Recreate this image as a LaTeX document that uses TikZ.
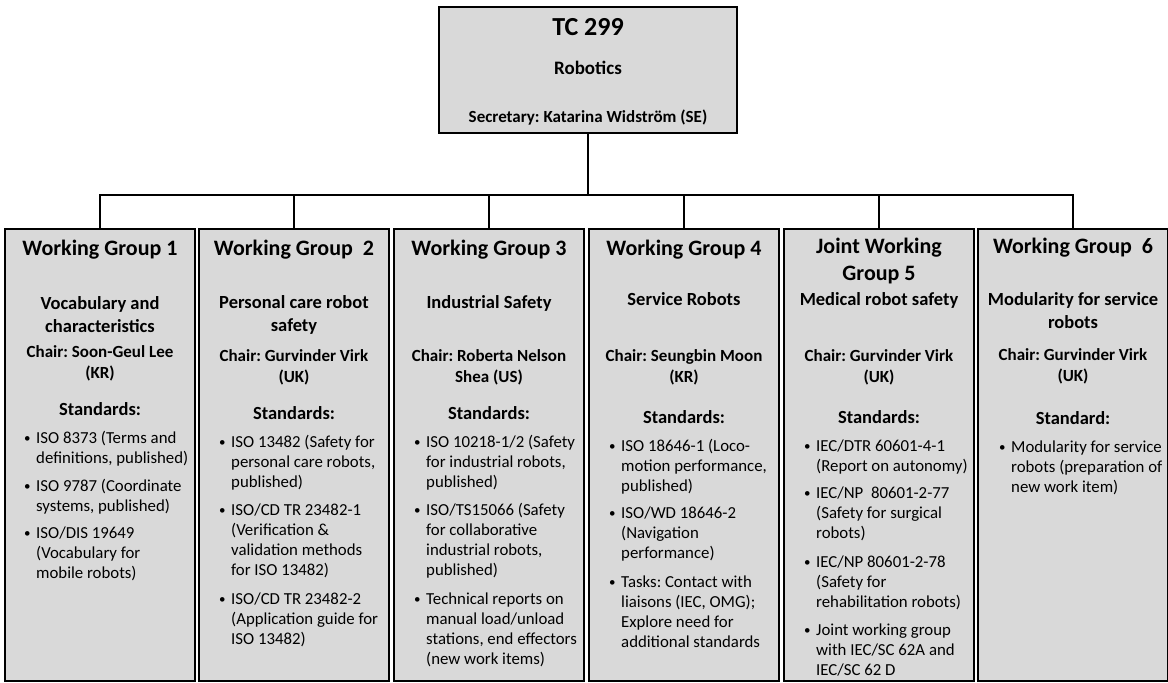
\documentclass[tikz,border=0pt]{standalone}
\usepackage{fontspec}
\setmainfont{Carlito}
\frenchspacing

\definecolor{boxgray}{RGB}{217,217,217}

\tikzset{
  tcbox/.style={draw, line width=2.2pt, fill=boxgray, minimum width=298pt, minimum height=126pt, inner sep=0pt},
  wgbox/.style={draw, line width=2.2pt, fill=boxgray, minimum width=190pt, minimum height=452pt, inner sep=0pt},
  link/.style={line width=1.6pt},
  wghead/.style={font=\fontsize{22}{27}\selectfont\bfseries, align=center, inner sep=0pt},
  wgtopic/.style={font=\fontsize{18.5}{23}\selectfont\bfseries, align=center, inner sep=0pt},
  wgchair/.style={font=\fontsize{17}{21}\selectfont\bfseries, align=center, inner sep=0pt},
  wgstd/.style={font=\fontsize{18.5}{22}\selectfont\bfseries, inner sep=0pt},
  stdline/.style={font=\fontsize{16.8}{20}\selectfont, anchor=base west, inner sep=0pt},
  stddot/.style={font=\fontsize{13}{13}\selectfont, anchor=base west, inner sep=0pt},
}

% bullet item: name, bullet x, first baseline y, lines
\newcommand{\stditem}[4]{%
  \node[stddot] (#1) at (#2-1,#3-1) {\textbullet};
  \foreach \ln [count=\k from 0] in {#4}
    \node[stdline] (#1-\k) at (#2+11,#3+20*\k) {\ln};
}

\begin{document}
\begin{tikzpicture}[x=1pt, y=-1pt]
\useasboundingbox (0,0) rectangle (1168,683);

% committee
\node[tcbox] (tc) at (588,70) {};
\node[font=\fontsize{26}{30}\selectfont\bfseries] (tc-title) at (588,27) {TC 299};
\node[font=\fontsize{19}{23}\selectfont\bfseries] (tc-topic) at (588,68) {Robotics};
\node[font=\fontsize{17}{21}\selectfont\bfseries] (tc-sec) at (588,118) {Secretary: Katarina Widström (SE)};

% working groups
\node[wgbox] (wg1) at (100,455) {};
\node[wgbox] (wg2) at (294,455) {};
\node[wgbox] (wg3) at (489,455) {};
\node[wgbox] (wg4) at (684,455) {};
\node[wgbox] (wg5) at (879,455) {};
\node[wgbox] (wg6) at (1073,455) {};

\coordinate (bar) at (588,195);
\draw[link] (tc.south) -- (bar);
\foreach \g in {wg1,wg2,wg3,wg4,wg5,wg6}
  \draw[link] (\g.north) |- (bar);

% WG 1
\node[wghead] (wg1-head) at (100,250) {Working Group 1};
\node[wgtopic] (wg1-topic) at (100,315) {Vocabulary and\\characteristics};
\node[wgchair] (wg1-chair) at (100,363.5) {Chair: Soon-Geul Lee\\(KR)};
\node[wgstd] (wg1-std) at (100,409) {Standards:};
\stditem{wg1a}{25}{443}{{ISO 8373 (Terms and},{definitions, published)}}
\stditem{wg1b}{25}{491}{{ISO 9787 (Coordinate},{systems, published)}}
\stditem{wg1c}{25}{538}{{ISO/DIS 19649},{(Vocabulary for},{mobile robots)}}

% WG 2
\node[wghead] (wg2-head) at (294,250) {Working Group~~2};
\node[wgtopic] (wg2-topic) at (294,315) {Personal care robot\\safety};
\node[wgchair] (wg2-chair) at (294,367.5) {Chair: Gurvinder Virk\\(UK)};
\node[wgstd] (wg2-std) at (294,413) {Standards:};
\stditem{wg2a}{220}{447}{{ISO 13482 (Safety for},{personal care robots,},{published)}}
\stditem{wg2b}{220}{515}{{ISO/CD TR 23482-1},{(Verification \&},{validation methods},{for ISO 13482)}}
\stditem{wg2c}{220}{604}{{ISO/CD TR 23482-2},{(Application guide for},{ISO 13482)}}

% WG 3
\node[wghead] (wg3-head) at (489,250) {Working Group 3};
\node[wgtopic] (wg3-topic) at (489,303) {Industrial Safety};
\node[wgchair] (wg3-chair) at (489,367.5) {Chair: Roberta Nelson\\Shea (US)};
\node[wgstd] (wg3-std) at (489,413) {Standards:};
\stditem{wg3a}{415}{447}{{ISO 10218-1/2 (Safety},{for industrial robots,},{published)}}
\stditem{wg3b}{415}{515}{{ISO/TS15066 (Safety},{for collaborative},{industrial robots,},{published)}}
\stditem{wg3c}{415}{604}{{Technical reports on},{manual load/unload},{stations, end effectors},{(new work items)}}

% WG 4
\node[wghead] (wg4-head) at (684,250) {Working Group 4};
\node[wgtopic] (wg4-topic) at (684,299) {Service Robots};
\node[wgchair] (wg4-chair) at (684,367.5) {Chair: Seungbin Moon\\(KR)};
\node[wgstd] (wg4-std) at (684,417) {Standards:};
\stditem{wg4a}{610}{451}{{ISO 18646-1 (Loco-},{motion performance,},{published)}}
\stditem{wg4b}{610}{518}{{ISO/WD 18646-2},{(Navigation},{performance)}}
\stditem{wg4c}{610}{587}{{Tasks: Contact with},{liaisons (IEC, OMG);},{Explore need for},{additional standards}}

% JWG 5
\node[wghead] (wg5-head) at (879,261.5) {Joint Working\\Group 5};
\node[wgtopic] (wg5-topic) at (879,300) {Medical robot safety};
\node[wgchair] (wg5-chair) at (879,367.5) {Chair: Gurvinder Virk\\(UK)};
\node[wgstd] (wg5-std) at (879,417) {Standards:};
\stditem{wg5a}{805}{451}{{IEC/DTR 60601-4-1},{(Report on autonomy)}}
\stditem{wg5b}{805}{498}{{IEC/NP~~80601-2-77},{(Safety for surgical},{robots)}}
\stditem{wg5c}{805}{567}{{IEC/NP 80601-2-78},{(Safety for},{rehabilitation robots)}}
\stditem{wg5d}{805}{635}{{Joint working group},{with IEC/SC 62A and},{IEC/SC 62 D}}

% WG 6
\node[wghead] (wg6-head) at (1073,248) {Working Group~~6};
\node[wgtopic] (wg6-topic) at (1073,311) {Modularity for service\\robots};
\node[wgchair] (wg6-chair) at (1073,366) {Chair: Gurvinder Virk\\(UK)};
\node[wgstd] (wg6-std) at (1073,418) {Standard:};
\stditem{wg6a}{1000}{452}{{Modularity for service},{robots (preparation of},{new work item)}}
\end{tikzpicture}
\end{document}
